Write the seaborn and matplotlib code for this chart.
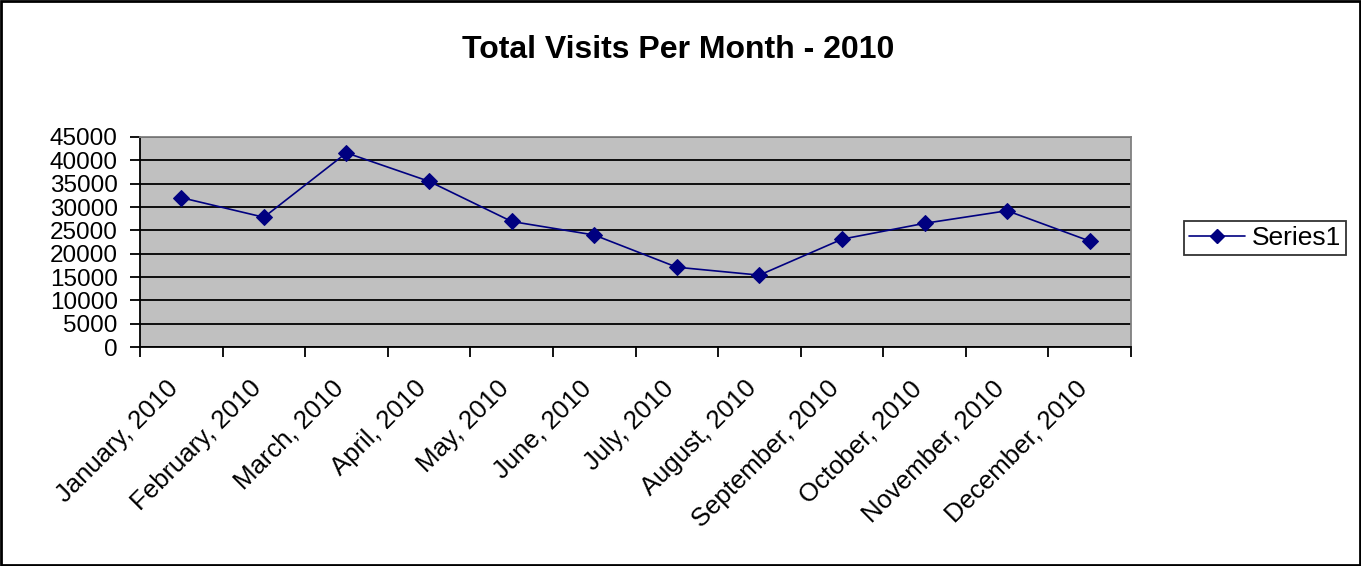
import numpy as np
import pandas as pd
import matplotlib
matplotlib.use("Agg")
import matplotlib.pyplot as plt
from matplotlib.ticker import FixedLocator
from matplotlib.patches import Rectangle
import seaborn as sns

months = ["January, 2010", "February, 2010", "March, 2010", "April, 2010",
          "May, 2010", "June, 2010", "July, 2010", "August, 2010",
          "September, 2010", "October, 2010", "November, 2010", "December, 2010"]
visits = [32000, 27800, 41600, 35500, 26900, 24000, 17100, 15400,
          23100, 26500, 29200, 22700]
series_name = "Series1"
title = "Total Visits Per Month - 2010"
yticks = [0, 5000, 10000, 15000, 20000, 25000, 30000, 35000, 40000, 45000]

sns.set_style("white")
plt.rcParams['font.family'] = ['Liberation Sans', 'DejaVu Sans']
plt.rcParams['text.color'] = 'black'
plt.rcParams['xtick.color'] = 'black'
plt.rcParams['ytick.color'] = 'black'
plt.rcParams['axes.labelcolor'] = 'black'

df = pd.DataFrame({"month": months, "visits": visits, "series": series_name})
df["pos"] = np.arange(len(months))

W, H = 1361, 566
fig = plt.figure(figsize=(W / 100, H / 100), dpi=100)
fig.patch.set_facecolor("white")
ax = fig.add_axes([140 / W, (H - 347) / H, (1131 - 140) / W, (347 - 137) / H])
ax.set_facecolor("#C0C0C0")

sns.lineplot(data=df, x="pos", y="visits", hue="series", palette=["#000080"],
             marker="D", markersize=8, markeredgecolor="#000080",
             linewidth=1.2, ax=ax, legend=False, zorder=5)

ax.set_xlim(-0.5, len(months) - 0.5)
ax.set_ylim(0, 45000)
ax.set_yticks(yticks)
ax.set_yticklabels([str(v) for v in yticks], fontsize=17.5)
ax.yaxis.grid(True, color="black", linewidth=1.3)
ax.set_axisbelow(True)

# label anchors sit slightly left of each category centre, as in the original
ax.set_xticks(np.arange(len(months)) - 0.18)
ax.set_xticklabels(months, rotation=45, ha="right", rotation_mode="anchor",
                   fontsize=18.5)
ax.xaxis.set_minor_locator(FixedLocator(np.arange(-0.5, len(months), 1.0)))
ax.tick_params(axis="x", which="major", length=0, pad=21)
ax.tick_params(axis="x", which="minor", length=7, width=1.3, color="black",
               direction="out", bottom=True)
ax.tick_params(axis="y", which="major", length=7, width=1.3, color="black",
               direction="out", left=True, pad=9)
ax.set_xlabel("")
ax.set_ylabel("")

for s in ["left", "bottom"]:
    ax.spines[s].set_color("black")
    ax.spines[s].set_linewidth(1.3)
for s in ["top", "right"]:
    ax.spines[s].set_color("#808080")
    ax.spines[s].set_linewidth(1.3)

fig.text(0.5 * (465 + 892) / W, 1 - 50 / H, title, ha="center", va="center",
         fontsize=23, fontweight="bold", color="black")

handle = plt.Line2D([], [], color="#000080", marker="D", markersize=7,
                    linewidth=1.2)
leg = fig.legend([handle], [series_name], loc="center left",
                 bbox_to_anchor=(1184 / W, 1 - 238 / H), fontsize=19,
                 frameon=True, fancybox=False, edgecolor="black",
                 handlelength=2.1, borderpad=0.2, handletextpad=0.27,
                 borderaxespad=0)
leg.get_frame().set_linewidth(1.3)

fig.patches.append(Rectangle((0.001, 0.002), 0.998, 0.996, transform=fig.transFigure,
                             fill=False, edgecolor="black", linewidth=2))

fig.savefig("out.png", dpi=100, facecolor="white")
